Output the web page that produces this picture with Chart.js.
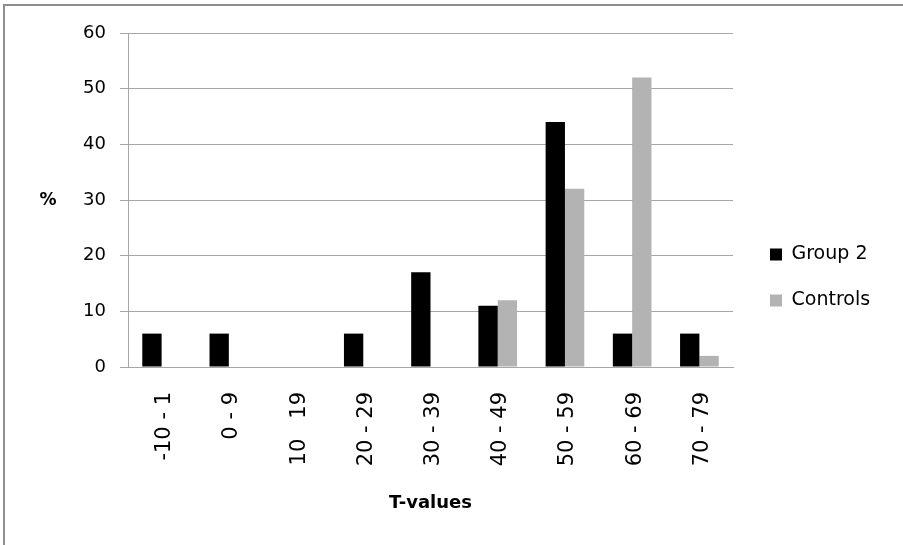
<!DOCTYPE html>
<html lang="en">

<head>
    <meta charset="UTF-8">
    <title>T-values</title>
    <script src="https://cdn.jsdelivr.net/npm/chart.js"></script>

    <style>
        html, body {
            margin: 0;
            padding: 0;
            overflow: hidden;
            background-color: #ffffff;
        }

        .moldura {
            position: absolute;
            left: 3px;
            top: 4px;
            right: 0;
            bottom: 0;
            border-top: 2px solid #8e8e8e;
            border-left: 2px solid #8e8e8e;
        }

        .div-grafico {
            position: absolute;
            left: 0;
            top: 0;
            width: 903px;
            height: 545px;
        }
    </style>
</head>

<body>
    <div class="moldura"></div>
    <div class="div-grafico">
        <canvas id="grafico"></canvas>
    </div>

<script>
    var categorias = ['-10 - 1', '0 - 9', '10   19', '20 - 29', '30 - 39', '40 - 49', '50 - 59', '60 - 69', '70 - 79'];
    var grupo2 = [6, 6, 0, 6, 17, 11, 44, 6, 6];
    var controles = [0, 0, 0, 0, 0, 12, 32, 52, 2];

    var cinza = '#a6a6a6';
    var fonte = 'DejaVu Sans';

    // "%" fica na horizontal, a esquerda do eixo
    var tituloY = {
        id: 'tituloY',
        afterDraw(chart) {
            var ctx = chart.ctx;
            var area = chart.chartArea;
            ctx.save();
            ctx.font = 'bold 17px "' + fonte + '"';
            ctx.fillStyle = '#000';
            ctx.textAlign = 'center';
            ctx.textBaseline = 'middle';
            ctx.fillText('%', 48, (area.top + area.bottom) / 2 + 1);
            ctx.restore();
        }
    };

    // largura fixa da legenda e pequeno deslocamento
    var ajusteLegenda = {
        id: 'ajusteLegenda',
        beforeLayout(chart) {
            var legenda = chart.legend;
            if (legenda && !legenda._fitOriginal) {
                legenda._fitOriginal = legenda.fit;
                legenda.fit = function () {
                    this._fitOriginal();
                    this.width = 170;
                };
            }
        },
        afterLayout(chart) {
            var legenda = chart.legend;
            legenda.left += 10;
            legenda.right += 10;
            legenda.top += 4;
            legenda.bottom += 4;
        }
    };

    var grafico = new Chart(document.getElementById('grafico').getContext('2d'), {
        type: 'bar',
        data: {
            labels: categorias,
            datasets: [{
                label: 'Group 2',
                backgroundColor: '#000000',
                borderWidth: 0,
                data: grupo2
            }, {
                label: 'Controls',
                backgroundColor: '#b3b3b3',
                borderWidth: 0,
                data: controles
            }]
        },
        options: {
            responsive: true,
            maintainAspectRatio: false,
            animation: false,
            categoryPercentage: 0.575,
            barPercentage: 1.0,
            layout: {
                padding: { top: 33, bottom: 31, left: 0, right: 0 }
            },
            plugins: {
                legend: {
                    position: 'right',
                    labels: {
                        color: '#000',
                        boxWidth: 12,
                        boxHeight: 12,
                        padding: 27,
                        font: { size: 19, family: fonte }
                    }
                },
                tooltip: { enabled: false }
            },
            scales: {
                x: {
                    grid: { display: false, drawTicks: false },
                    border: { display: true, color: cinza },
                    ticks: {
                        color: '#000',
                        minRotation: 90,
                        maxRotation: 90,
                        padding: 25,
                        labelOffset: 3,
                        font: { size: 21, family: fonte }
                    },
                    title: {
                        display: true,
                        text: 'T-values',
                        color: '#000',
                        padding: 0,
                        font: { size: 18, weight: 'bold', family: fonte }
                    },
                    afterFit(scale) {
                        scale.height = 147;
                    }
                },
                y: {
                    min: 0,
                    max: 60,
                    grid: { color: cinza, tickLength: 8, drawTicks: true },
                    border: { display: true, color: cinza },
                    ticks: {
                        stepSize: 10,
                        color: '#000',
                        padding: 14,
                        font: { size: 18, family: fonte }
                    },
                    afterFit(scale) {
                        scale.width = 128;
                    }
                }
            }
        },
        plugins: [tituloY, ajusteLegenda]
    });
</script>
</body>

</html>
